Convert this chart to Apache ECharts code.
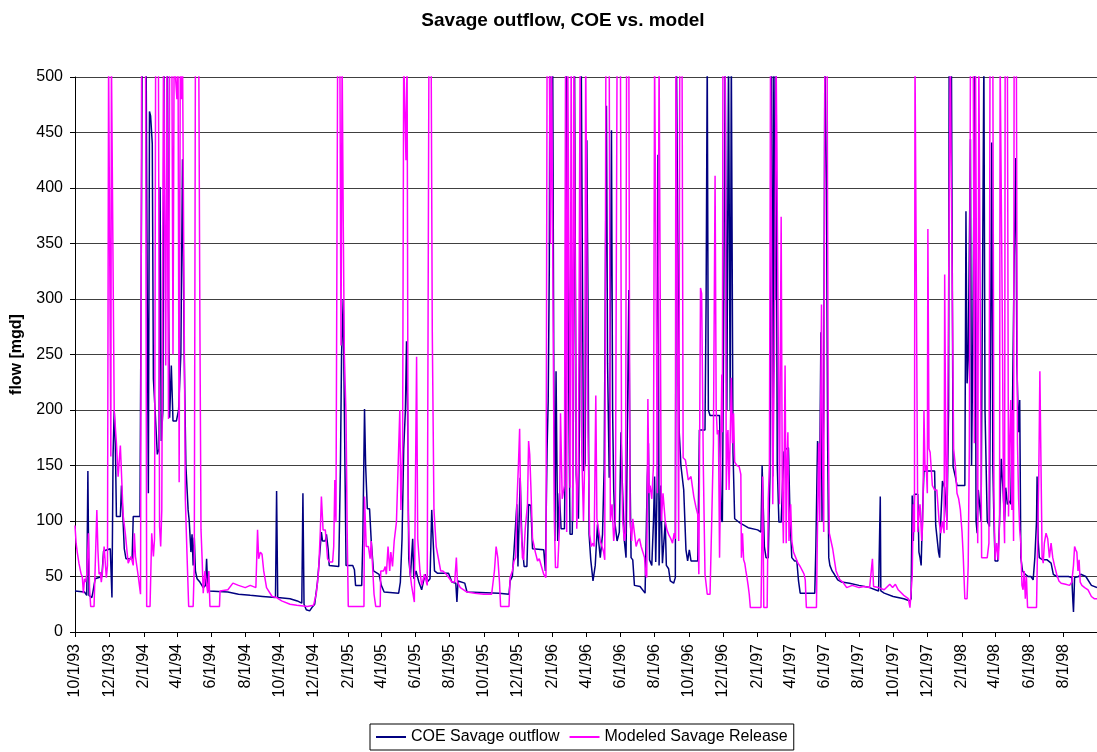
<!DOCTYPE html>
<html>
<head>
<meta charset="utf-8">
<script src="https://cdn.jsdelivr.net/npm/echarts@6/dist/echarts.min.js"></script>
<style>
  html, body { margin: 0; padding: 0; background: #fff; }
  #chart { width: 1097px; height: 752px; }
</style>
</head>
<body>
<div id="chart"></div>
<script>
// daily flows at their turning points, [date, mgd]
const coeOutflow = [
  ['1993-10-01',37],['1993-10-18',36],['1993-10-22',33],['1993-10-24',145],['1993-10-26',33],['1993-10-31',31],['1993-11-02',36],['1993-11-06',48],['1993-11-18',50],['1993-11-21',73],['1993-12-03',75],['1993-12-06',31],['1993-12-08',160],['1993-12-10',200],['1993-12-12',170],['1993-12-14',104],['1993-12-21',104],['1993-12-23',132],['1993-12-25',110],['1993-12-28',75],['1993-12-31',66],
  ['1994-01-11',66],['1994-01-13',104],['1994-01-25',104],['1994-01-27',300],['1994-01-29',520],['1994-02-05',520],['1994-02-07',300],['1994-02-09',125],['1994-02-11',469],['1994-02-13',465],['1994-02-16',440],['1994-02-18',228],['1994-02-21',200],['1994-02-25',160],['1994-02-28',165],['1994-03-02',401],['1994-03-04',172],['1994-03-07',200],['1994-03-09',520],['1994-03-15',520],['1994-03-17',300],['1994-03-19',193],['1994-03-22',240],['1994-03-25',190],['1994-03-31',190],['1994-04-04',200],['1994-04-08',250],['1994-04-11',426],['1994-04-14',250],['1994-04-17',150],['1994-04-21',110],['1994-04-23',100],['1994-04-26',72],['1994-04-28',88],['1994-04-30',60],['1994-05-02',85],['1994-05-04',55],['1994-05-07',48],['1994-05-12',45],['1994-05-18',40],['1994-05-22',42],['1994-05-24',66],['1994-05-26',40],['1994-05-28',37],['1994-07-01',36],['1994-07-20',34],['1994-08-10',33],['1994-09-01',32],['1994-09-24',31],['1994-09-26',127],['1994-09-28',31],['1994-10-20',30],['1994-11-02',28],['1994-11-10',26],['1994-11-12',125],['1994-11-14',25],['1994-11-18',20],['1994-11-24',19],['1994-11-28',22],['1994-12-03',25],['1994-12-08',45],['1994-12-12',70],['1994-12-15',90],['1994-12-17',82],['1994-12-22',82],['1994-12-24',88],['1994-12-27',75],['1994-12-29',60],
  ['1995-01-15',59],['1995-01-18',150],['1995-01-20',250],['1995-01-23',300],['1995-01-25',200],['1995-01-28',60],['1995-02-09',60],['1995-02-12',56],['1995-02-14',42],['1995-02-25',42],['1995-02-27',84],['1995-03-02',201],['1995-03-04',150],['1995-03-07',111],['1995-03-11',111],['1995-03-14',82],['1995-03-18',55],['1995-03-28',52],['1995-04-01',42],['1995-04-06',36],['1995-05-02',35],['1995-05-05',45],['1995-05-08',84],['1995-05-11',165],['1995-05-14',200],['1995-05-16',262],['1995-05-18',195],['1995-05-20',66],['1995-05-23',50],['1995-05-27',84],['1995-05-29',48],['1995-06-02',55],['1995-06-07',45],['1995-06-12',38],['1995-06-18',52],['1995-06-22',45],['1995-06-27',48],['1995-06-30',110],['1995-07-02',110],['1995-07-05',55],['1995-07-10',53],['1995-07-30',53],['1995-08-05',45],['1995-08-12',44],['1995-08-14',27],['1995-08-16',46],['1995-08-28',44],['1995-09-01',36],['1995-10-28',35],['1995-11-15',34],['1995-11-17',46],['1995-11-21',50],['1995-11-25',82],['1995-11-29',115],['1995-12-01',59],['1995-12-05',139],['1995-12-08',82],['1995-12-12',59],['1995-12-17',59],['1995-12-20',115],['1995-12-24',114],['1995-12-27',75],
  ['1996-01-16',74],['1996-01-19',55],['1996-01-22',165],['1996-01-24',208],['1996-01-26',331],['1996-01-27',520],['1996-02-01',520],['1996-02-03',233],['1996-02-05',82],['1996-02-07',235],['1996-02-10',82],['1996-02-13',125],['1996-02-16',93],['1996-02-22',93],['1996-02-24',195],['1996-02-25',520],['1996-02-28',520],['1996-03-01',200],['1996-03-03',88],['1996-03-07',88],['1996-03-09',200],['1996-03-11',520],['1996-03-14',142],['1996-03-18',102],['1996-03-20',195],['1996-03-23',520],['1996-03-27',145],['1996-03-30',152],['1996-04-02',443],['1996-04-04',300],['1996-04-06',88],['1996-04-09',65],['1996-04-13',46],['1996-04-17',60],['1996-04-21',97],['1996-04-23',82],['1996-04-26',67],['1996-04-30',88],['1996-05-03',150],['1996-05-07',474],['1996-05-09',242],['1996-05-12',139],['1996-05-16',452],['1996-05-18',200],['1996-05-20',128],['1996-05-22',99],['1996-05-26',82],['1996-05-30',90],['1996-06-02',180],['1996-06-04',139],['1996-06-08',82],['1996-06-11',67],['1996-06-14',67],['1996-06-16',308],['1996-06-18',150],['1996-06-20',67],['1996-06-23',65],['1996-06-26',42],['1996-07-06',41],['1996-07-15',35],['1996-07-18',35],['1996-07-19',140],['1996-07-21',170],['1996-07-23',65],['1996-07-27',60],['1996-07-30',100],['1996-08-01',140],['1996-08-03',63],['1996-08-06',145],['1996-08-07',430],['1996-08-09',60],['1996-08-12',132],['1996-08-15',62],['1996-08-20',99],['1996-08-22',60],['1996-08-26',57],['1996-08-29',46],['1996-09-04',44],['1996-09-07',49],['1996-09-09',520],['1996-09-12',520],['1996-09-14',180],['1996-09-17',150],['1996-09-22',128],['1996-09-26',74],['1996-09-29',64],['1996-10-02',74],['1996-10-05',64],['1996-10-17',64],['1996-10-20',182],['1996-10-30',182],['1996-11-01',300],['1996-11-03',520],['1996-11-05',200],['1996-11-08',195],['1996-11-25',195],['1996-11-28',102],['1996-11-30',99],['1996-12-02',250],['1996-12-05',520],['1996-12-08',200],['1996-12-11',520],['1996-12-14',200],['1996-12-16',520],['1996-12-19',162],['1996-12-22',102],
  ['1997-01-01',98],['1997-01-15',94],['1997-02-01',92],['1997-02-07',90],['1997-02-09',150],['1997-02-11',150],['1997-02-13',77],['1997-02-16',67],['1997-02-20',67],['1997-02-23',140],['1997-02-26',520],['1997-02-28',140],['1997-03-02',520],['1997-03-04',300],['1997-03-06',520],['1997-03-08',150],['1997-03-11',99],['1997-03-15',99],['1997-03-18',140],['1997-03-20',162],['1997-03-24',165],['1997-03-28',166],['1997-03-31',100],['1997-04-03',67],['1997-04-08',64],['1997-04-12',64],['1997-04-15',46],['1997-04-18',35],['1997-05-14',35],['1997-05-16',77],['1997-05-19',172],['1997-05-21',172],['1997-05-23',150],['1997-05-25',270],['1997-05-27',100],['1997-05-30',200],['1997-06-01',520],['1997-06-04',400],['1997-06-06',170],['1997-06-08',67],['1997-06-10',60],['1997-06-14',55],['1997-06-18',52],['1997-06-24',47],['1997-07-01',45],['1997-07-15',44],['1997-08-01',42],['1997-08-20',40],['1997-09-05',37],['1997-09-07',37],['1997-09-08',122],['1997-09-09',37],['1997-09-15',35],['1997-10-01',32],['1997-10-20',30],['1997-10-31',28],['1997-11-02',30],['1997-11-04',123],['1997-11-06',82],['1997-11-08',124],['1997-11-14',124],['1997-11-16',72],['1997-11-18',67],['1997-11-20',60],['1997-11-22',100],['1997-11-25',145],['1997-12-14',145],['1997-12-16',96],['1997-12-19',96],['1997-12-21',72],['1997-12-23',67],['1997-12-25',100],['1997-12-28',136],
  ['1998-01-01',130],['1998-01-05',100],['1998-01-08',200],['1998-01-09',520],['1998-01-13',520],['1998-01-16',149],['1998-01-20',140],['1998-01-23',132],['1998-02-06',132],['1998-02-07',250],['1998-02-08',379],['1998-02-10',224],['1998-02-12',245],['1998-02-14',245],['1998-02-16',444],['1998-02-18',150],['1998-02-20',245],['1998-02-24',520],['1998-02-26',100],['1998-02-28',89],['1998-03-02',128],['1998-03-05',128],['1998-03-07',100],['1998-03-10',100],['1998-03-12',520],['1998-03-14',200],['1998-03-18',100],['1998-03-22',95],['1998-03-26',441],['1998-03-28',150],['1998-03-30',100],['1998-04-01',64],['1998-04-06',64],['1998-04-09',100],['1998-04-12',156],['1998-04-15',130],['1998-04-18',100],['1998-04-20',130],['1998-04-23',115],['1998-04-27',118],['1998-04-29',115],['1998-05-02',200],['1998-05-05',330],['1998-05-08',427],['1998-05-10',240],['1998-05-13',180],['1998-05-15',209],['1998-05-17',67],['1998-05-20',55],['1998-05-25',52],['1998-05-30',50],['1998-06-04',50],['1998-06-08',47],['1998-06-11',67],['1998-06-14',100],['1998-06-15',140],['1998-06-17',82],['1998-06-19',67],['1998-06-25',65],['1998-07-03',65],['1998-07-10',62],['1998-07-14',52],['1998-07-20',50],['1998-08-10',50],['1998-08-16',49],['1998-08-18',27],['1998-08-19',18],['1998-08-21',49],['1998-08-28',50],['1998-09-01',52],['1998-09-10',50],['1998-09-20',42],['1998-09-30',40]
];

const modeledRelease = [
  ['1993-10-01',96],['1993-10-03',80],['1993-10-05',72],['1993-10-08',62],['1993-10-12',52],['1993-10-14',50],['1993-10-16',35],['1993-10-18',48],['1993-10-20',45],['1993-10-22',52],['1993-10-25',89],['1993-10-27',40],['1993-10-29',23],['1993-11-04',23],['1993-11-09',110],['1993-11-11',73],['1993-11-13',52],['1993-11-15',54],['1993-11-17',45],['1993-11-19',54],['1993-11-22',77],['1993-11-26',49],['1993-11-28',60],['1993-11-30',520],['1993-12-03',520],['1993-12-04',158],['1993-12-05',520],['1993-12-08',520],['1993-12-10',200],['1993-12-14',170],['1993-12-17',140],['1993-12-21',168],['1993-12-26',105],['1993-12-30',88],
  ['1994-01-02',72],['1994-01-04',62],['1994-01-09',68],['1994-01-13',60],['1994-01-15',89],['1994-01-17',68],['1994-01-22',50],['1994-01-26',34],['1994-01-28',520],['1994-02-04',520],['1994-02-06',23],['1994-02-12',23],['1994-02-15',89],['1994-02-18',68],['1994-02-20',84],['1994-02-22',520],['1994-02-27',520],['1994-03-01',95],['1994-03-03',77],['1994-03-05',110],['1994-03-08',520],['1994-03-10',520],['1994-03-12',240],['1994-03-14',520],['1994-03-17',192],['1994-03-19',520],['1994-03-23',520],['1994-03-25',250],['1994-03-27',520],['1994-03-30',520],['1994-04-01',480],['1994-04-03',520],['1994-04-05',135],['1994-04-07',520],['1994-04-09',480],['1994-04-11',520],['1994-04-14',520],['1994-04-16',120],['1994-04-19',70],['1994-04-22',23],['1994-04-30',23],['1994-05-02',60],['1994-05-04',520],['1994-05-10',520],['1994-05-12',281],['1994-05-14',92],['1994-05-16',66],['1994-05-18',35],['1994-05-21',55],['1994-05-24',55],['1994-05-26',35],['1994-05-28',55],['1994-05-30',23],['1994-06-16',23],['1994-06-17',37],['1994-07-01',38],['1994-07-10',44],['1994-07-20',42],['1994-08-01',40],['1994-08-10',42],['1994-08-20',40],['1994-08-23',92],['1994-08-25',66],['1994-08-28',72],['1994-08-31',70],['1994-09-03',55],['1994-09-08',40],['1994-09-18',32],['1994-09-26',31],['1994-10-05',28],['1994-10-20',25],['1994-11-01',24],['1994-11-20',23],['1994-12-01',24],['1994-12-06',35],['1994-12-10',55],['1994-12-13',90],['1994-12-15',122],['1994-12-18',92],['1994-12-22',92],['1994-12-26',66],['1994-12-30',63],
  ['1995-01-04',63],['1995-01-06',77],['1995-01-08',137],['1995-01-10',99],['1995-01-13',520],['1995-01-17',520],['1995-01-19',258],['1995-01-21',520],['1995-01-23',370],['1995-01-25',250],['1995-01-28',195],['1995-01-30',92],['1995-02-01',23],['1995-03-01',23],['1995-03-02',122],['1995-03-05',77],['1995-03-09',77],['1995-03-12',66],['1995-03-14',82],['1995-03-19',34],['1995-03-22',23],['1995-03-30',23],['1995-03-31',55],['1995-04-05',55],['1995-04-08',59],['1995-04-10',52],['1995-04-13',77],['1995-04-16',55],['1995-04-18',72],['1995-04-21',59],['1995-04-24',82],['1995-04-28',99],['1995-05-04',200],['1995-05-06',110],['1995-05-09',165],['1995-05-11',520],['1995-05-15',425],['1995-05-17',520],['1995-05-19',110],['1995-05-22',55],['1995-05-25',42],['1995-05-30',27],['1995-06-03',248],['1995-06-05',84],['1995-06-09',55],['1995-06-12',42],['1995-06-17',52],['1995-06-22',42],['1995-06-25',520],['1995-06-29',520],['1995-07-01',271],['1995-07-04',110],['1995-07-08',77],['1995-07-12',66],['1995-07-16',55],['1995-07-20',55],['1995-07-26',52],['1995-08-01',48],['1995-08-05',45],['1995-08-10',45],['1995-08-13',67],['1995-08-15',45],['1995-08-20',40],['1995-09-01',36],['1995-09-15',35],['1995-10-01',34],['1995-10-15',34],['1995-10-20',55],['1995-10-23',77],['1995-10-26',67],['1995-10-29',45],['1995-10-31',23],['1995-11-15',23],['1995-11-17',49],['1995-11-21',55],['1995-11-24',64],['1995-11-27',67],['1995-11-29',115],['1995-12-02',153],['1995-12-04',183],['1995-12-06',105],['1995-12-09',67],['1995-12-11',65],['1995-12-14',93],['1995-12-18',115],['1995-12-20',172],['1995-12-22',160],['1995-12-24',132],['1995-12-27',84],['1995-12-30',77],
  ['1996-01-01',72],['1996-01-05',64],['1996-01-08',66],['1996-01-12',59],['1996-01-16',52],['1996-01-20',49],['1996-01-22',520],['1996-01-26',520],['1996-01-28',350],['1996-01-30',520],['1996-02-02',520],['1996-02-04',100],['1996-02-06',58],['1996-02-10',58],['1996-02-13',93],['1996-02-15',197],['1996-02-18',120],['1996-02-22',132],['1996-02-24',520],['1996-02-26',90],['1996-02-28',520],['1996-03-03',130],['1996-03-05',520],['1996-03-08',100],['1996-03-10',520],['1996-03-13',520],['1996-03-15',93],['1996-03-18',150],['1996-03-21',520],['1996-03-24',160],['1996-03-27',100],['1996-03-29',150],['1996-03-31',520],['1996-04-02',354],['1996-04-04',182],['1996-04-07',88],['1996-04-10',77],['1996-04-13',80],['1996-04-15',77],['1996-04-18',213],['1996-04-20',102],['1996-04-23',102],['1996-04-26',82],['1996-04-29',82],['1996-05-02',72],['1996-05-04',65],['1996-05-06',520],['1996-05-12',520],['1996-05-14',100],['1996-05-17',115],['1996-05-20',82],['1996-05-23',102],['1996-05-26',520],['1996-06-01',520],['1996-06-03',158],['1996-06-05',100],['1996-06-08',82],['1996-06-10',89],['1996-06-12',520],['1996-06-16',520],['1996-06-18',100],['1996-06-21',82],['1996-06-23',102],['1996-06-26',89],['1996-06-29',77],['1996-07-02',82],['1996-07-05',84],['1996-07-08',77],['1996-07-11',72],['1996-07-14',67],['1996-07-16',52],['1996-07-18',49],['1996-07-20',210],['1996-07-22',125],['1996-07-24',132],['1996-07-27',120],['1996-07-30',150],['1996-08-01',520],['1996-08-04',520],['1996-08-06',125],['1996-08-09',520],['1996-08-11',520],['1996-08-13',100],['1996-08-16',125],['1996-08-20',100],['1996-08-23',92],['1996-08-26',88],['1996-08-30',84],['1996-09-02',80],['1996-09-05',89],['1996-09-07',84],['1996-09-08',520],['1996-09-11',520],['1996-09-13',82],['1996-09-15',520],['1996-09-19',520],['1996-09-21',157],['1996-09-25',155],['1996-09-30',137],['1996-10-05',140],['1996-10-10',122],['1996-10-14',112],['1996-10-17',106],['1996-10-19',52],['1996-10-22',310],['1996-10-24',305],['1996-10-27',150],['1996-10-30',52],['1996-11-03',34],['1996-11-08',34],['1996-11-11',100],['1996-11-14',170],['1996-11-17',411],['1996-11-19',200],['1996-11-21',178],['1996-11-23',182],['1996-11-25',67],['1996-11-28',67],['1996-11-29',232],['1996-11-30',180],['1996-12-01',520],['1996-12-05',520],['1996-12-07',128],['1996-12-09',175],['1996-12-10',182],['1996-12-12',128],['1996-12-14',175],['1996-12-16',229],['1996-12-18',170],['1996-12-20',197],['1996-12-22',153],['1996-12-26',150],['1996-12-30',149],
  ['1997-01-02',142],['1997-01-03',67],['1997-01-05',89],['1997-01-07',65],['1997-01-09',62],['1997-01-11',55],['1997-01-13',49],['1997-01-15',42],['1997-01-17',34],['1997-01-19',22],['1997-02-07',22],['1997-02-09',100],['1997-02-10',140],['1997-02-12',22],['1997-02-18',22],['1997-02-20',120],['1997-02-22',150],['1997-02-24',520],['1997-02-27',520],['1997-02-28',115],['1997-03-01',170],['1997-03-03',250],['1997-03-06',520],['1997-03-08',520],['1997-03-10',250],['1997-03-12',115],['1997-03-15',374],['1997-03-17',130],['1997-03-19',80],['1997-03-22',240],['1997-03-24',80],['1997-03-25',140],['1997-03-27',180],['1997-03-29',82],['1997-04-01',115],['1997-04-03',82],['1997-04-06',72],['1997-04-10',67],['1997-04-14',62],['1997-04-18',59],['1997-04-22',55],['1997-04-25',52],['1997-04-27',47],['1997-04-29',22],['1997-05-17',22],['1997-05-19',100],['1997-05-21',170],['1997-05-23',100],['1997-05-26',295],['1997-05-28',150],['1997-05-30',90],['1997-06-01',520],['1997-06-05',520],['1997-06-07',200],['1997-06-09',89],['1997-06-12',82],['1997-06-15',75],['1997-06-18',65],['1997-06-21',55],['1997-06-25',50],['1997-06-28',47],['1997-07-03',45],['1997-07-10',40],['1997-07-20',42],['1997-08-01',40],['1997-08-10',41],['1997-08-20',40],['1997-08-25',66],['1997-08-27',41],['1997-09-05',40],['1997-09-15',38],['1997-09-25',43],['1997-09-30',40],['1997-10-05',43],['1997-10-10',38],['1997-10-20',33],['1997-10-28',30],['1997-10-31',22],['1997-11-02',22],['1997-11-04',50],['1997-11-06',115],['1997-11-08',90],['1997-11-09',520],['1997-11-12',520],['1997-11-14',90],['1997-11-16',105],['1997-11-18',115],['1997-11-21',82],['1997-11-23',100],['1997-11-25',200],['1997-11-27',145],['1997-11-29',150],['1997-12-01',125],['1997-12-02',363],['1997-12-04',165],['1997-12-06',162],['1997-12-10',132],['1997-12-14',128],['1997-12-18',128],['1997-12-22',100],['1997-12-25',89],['1997-12-28',100],['1997-12-31',89],
  ['1998-01-01',322],['1998-01-03',160],['1998-01-05',92],['1998-01-08',92],['1998-01-11',520],['1998-01-14',520],['1998-01-17',165],['1998-01-20',150],['1998-01-23',125],['1998-01-26',120],['1998-01-29',110],['1998-02-01',90],['1998-02-03',70],['1998-02-06',30],['1998-02-10',30],['1998-02-12',60],['1998-02-14',165],['1998-02-16',520],['1998-02-21',520],['1998-02-23',170],['1998-02-25',520],['1998-02-27',520],['1998-03-01',80],['1998-03-03',520],['1998-03-06',520],['1998-03-08',67],['1998-03-12',67],['1998-03-15',67],['1998-03-18',67],['1998-03-21',80],['1998-03-23',520],['1998-03-28',520],['1998-03-30',120],['1998-04-01',65],['1998-04-04',80],['1998-04-07',65],['1998-04-09',100],['1998-04-10',520],['1998-04-12',520],['1998-04-14',278],['1998-04-16',120],['1998-04-18',80],['1998-04-19',520],['1998-04-23',520],['1998-04-25',104],['1998-04-27',170],['1998-04-29',209],['1998-05-01',110],['1998-05-02',200],['1998-05-04',82],['1998-05-05',520],['1998-05-09',520],['1998-05-11',170],['1998-05-13',120],['1998-05-15',92],['1998-05-17',80],['1998-05-19',42],['1998-05-21',38],['1998-05-23',55],['1998-05-25',30],['1998-05-27',50],['1998-05-29',22],['1998-06-14',22],['1998-06-16',82],['1998-06-18',140],['1998-06-20',235],['1998-06-22',150],['1998-06-24',67],['1998-06-26',62],['1998-06-28',80],['1998-07-01',89],['1998-07-04',84],['1998-07-07',67],['1998-07-10',80],['1998-07-13',67],['1998-07-16',60],['1998-07-20',52],['1998-07-24',46],['1998-07-28',44],['1998-08-05',43],['1998-08-12',42],['1998-08-16',45],['1998-08-19',60],['1998-08-21',77],['1998-08-23',74],['1998-08-25',72],['1998-08-27',55],['1998-08-29',65],['1998-08-31',45],['1998-09-03',42],['1998-09-08',40],['1998-09-14',38],['1998-09-20',32],['1998-09-25',30],['1998-09-30',30]
];

const tickLabels = [
  '10/1/93', '12/1/93', '2/1/94', '4/1/94', '6/1/94', '8/1/94', '10/1/94', '12/1/94',
  '2/1/95', '4/1/95', '6/1/95', '8/1/95', '10/1/95', '12/1/95', '2/1/96', '4/1/96',
  '6/1/96', '8/1/96', '10/1/96', '12/1/96', '2/1/97', '4/1/97', '6/1/97', '8/1/97',
  '10/1/97', '12/1/97', '2/1/98', '4/1/98', '6/1/98', '8/1/98'
];

const seriesNames = ['COE Savage outflow', 'Modeled Savage Release'];

// x axis counts days from 10/1/93
const start = Date.UTC(1993, 9, 1);
const DAY = 86400000;
const dayOfIso = (s) => {
  const [y, m, d] = s.split('-').map(Number);
  return (Date.UTC(y, m - 1, d) - start) / DAY;
};
const dayOfLabel = (s) => {
  const [m, d, y] = s.split('/').map(Number);
  return (Date.UTC(1900 + y, m - 1, d) - start) / DAY;
};
const tickDays = tickLabels.map(dayOfLabel);
const labelByDay = {};
tickLabels.forEach((l, i) => { labelByDay[tickDays[i]] = l; });
const lastDay = dayOfIso('1998-09-30');

const font = 'Liberation Sans, Arial, sans-serif';

const myChart = echarts.init(document.getElementById('chart'));

myChart.setOption({
  animation: false,
  textStyle: { fontFamily: font, color: '#000' },
  title: {
    text: 'Savage outflow, COE vs. model',
    left: 558,
    textAlign: 'center',
    top: 6,
    textStyle: { fontFamily: font, fontSize: 19, fontWeight: 'bold', color: '#000' }
  },
  legend: {
    data: seriesNames,
    left: 370,
    top: 724,
    icon: 'rect',
    itemWidth: 30,
    itemHeight: 2,
    itemGap: 10,
    padding: [5, 6],
    borderColor: '#000',
    borderWidth: 1,
    backgroundColor: '#fff',
    textStyle: { fontFamily: font, fontSize: 16, color: '#000' }
  },
  grid: {
    left: 75,
    top: 77,
    width: 1026,
    height: 555
  },
  xAxis: {
    type: 'value',
    min: 0,
    max: lastDay,
    splitLine: { show: false },
    axisLine: { show: true, lineStyle: { color: '#000', width: 1 } },
    axisTick: {
      show: true,
      customValues: tickDays,
      length: 5,
      lineStyle: { color: '#000' }
    },
    axisLabel: {
      customValues: tickDays,
      rotate: 90,
      margin: 12,
      fontSize: 16,
      color: '#000',
      fontFamily: font,
      formatter: (v) => labelByDay[v] || ''
    }
  },
  yAxis: {
    type: 'value',
    min: 0,
    max: 500,
    interval: 50,
    name: 'flow [mgd]',
    nameLocation: 'middle',
    nameGap: 50,
    nameTextStyle: { fontFamily: font, fontSize: 16, fontWeight: 'bold', color: '#000' },
    axisLine: { show: true, lineStyle: { color: '#000', width: 1 } },
    axisTick: { show: true, length: 5, lineStyle: { color: '#000' } },
    axisLabel: { fontSize: 16, color: '#000', margin: 12, fontFamily: font },
    splitLine: { show: true, lineStyle: { color: '#404040', width: 1 } }
  },
  series: [
    {
      name: seriesNames[0],
      type: 'line',
      data: coeOutflow.map(([d, v]) => [dayOfIso(d), v]),
      showSymbol: false,
      clip: true,
      itemStyle: { color: '#000080' },
      lineStyle: { color: '#000080', width: 1.5 }
    },
    {
      name: seriesNames[1],
      type: 'line',
      data: modeledRelease.map(([d, v]) => [dayOfIso(d), v]),
      showSymbol: false,
      clip: true,
      itemStyle: { color: '#FF00FF' },
      lineStyle: { color: '#FF00FF', width: 1.5 }
    }
  ]
});
</script>
</body>
</html>
